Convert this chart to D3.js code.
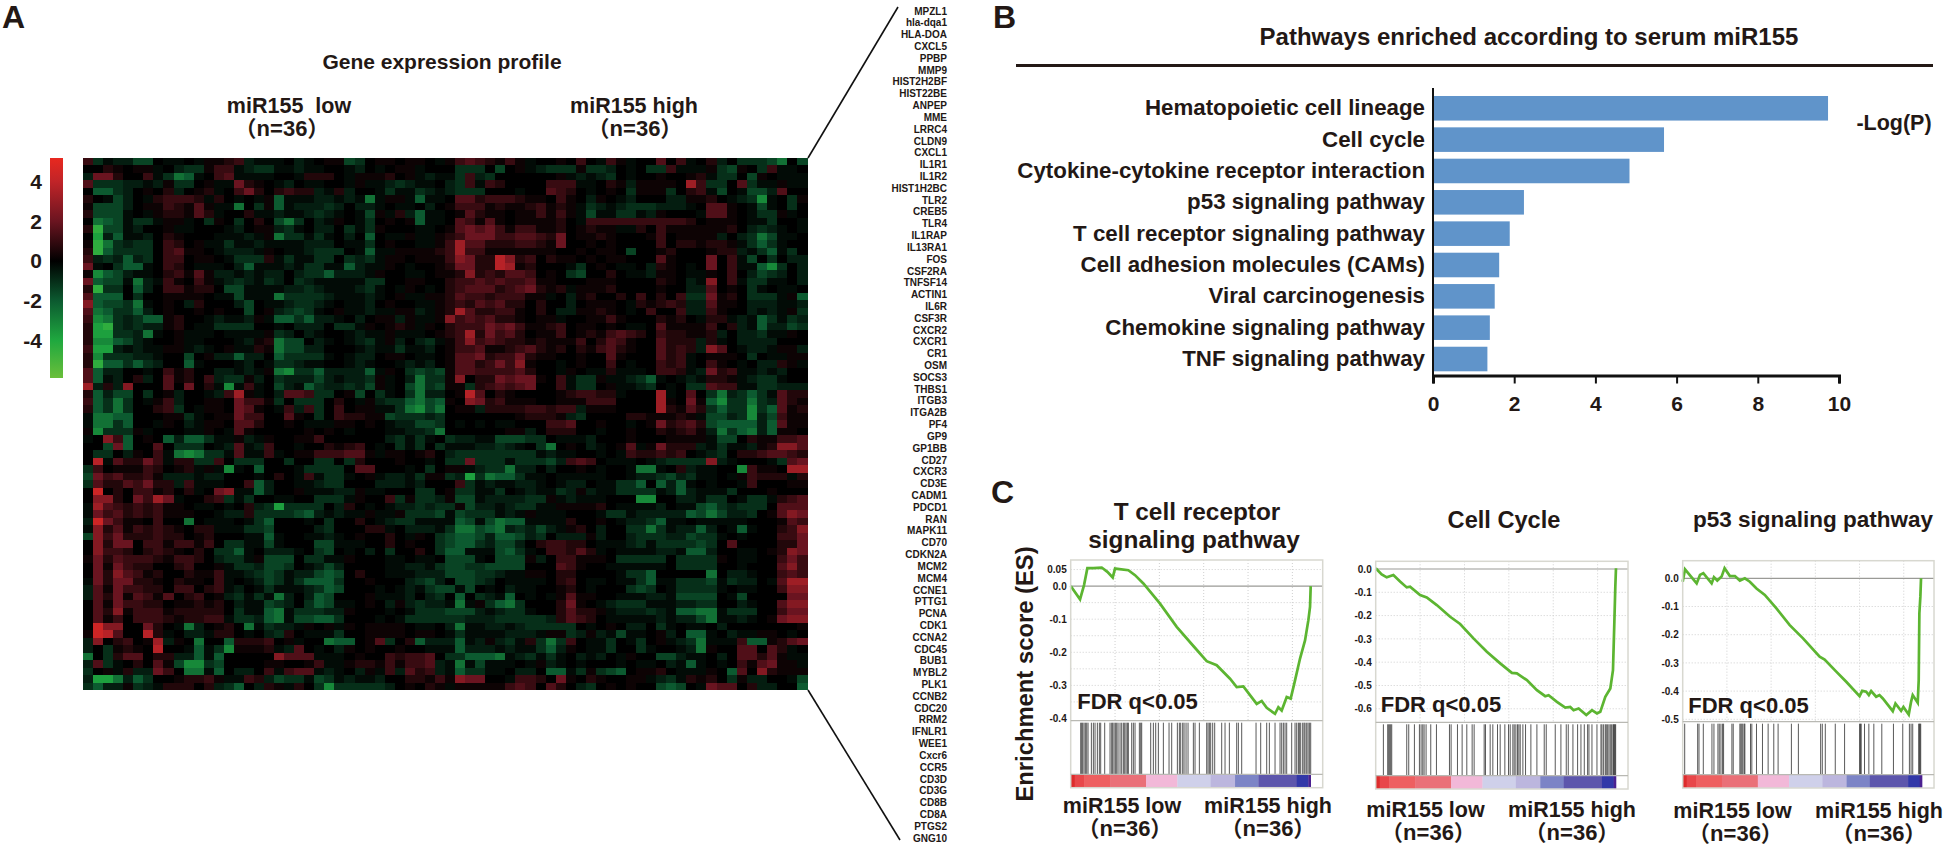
<!DOCTYPE html>
<html>
<head>
<meta charset="utf-8">
<style>
html, body { margin: 0; padding: 0; background: #fff; }
text { font-family: "Liberation Sans", "Noto Sans CJK SC", sans-serif; font-weight: bold; fill: #231815; white-space: pre; }
</style>
<script src="https://cdn.jsdelivr.net/npm/d3@7"></script>
</head>
<body>
<svg id="fig" width="1946" height="846"></svg>
<script>
/*global d3 */

var genes = ["MPZL1", "hla-dqa1", "HLA-DOA", "CXCL5", "PPBP", "MMP9", "HIST2H2BF", "HIST22BE", "ANPEP", "MME", "LRRC4", "CLDN9", "CXCL1", "IL1R1", "IL1R2", "HIST1H2BC", "TLR2", "CREB5", "TLR4", "IL1RAP", "IL13RA1", "FOS", "CSF2RA", "TNFSF14", "ACTIN1", "IL6R", "CSF3R", "CXCR2", "CXCR1", "CR1", "OSM", "SOCS3", "THBS1", "ITGB3", "ITGA2B", "PF4", "GP9", "GP1BB", "CD27", "CXCR3", "CD3E", "CADM1", "PDCD1", "RAN", "MAPK11", "CD70", "CDKN2A", "MCM2", "MCM4", "CCNE1", "PTTG1", "PCNA", "CDK1", "CCNA2", "CDC45", "BUB1", "MYBL2", "PLK1", "CCNB2", "CDC20", "RRM2", "IFNLR1", "WEE1", "Cxcr6", "CCR5", "CD3D", "CD3G", "CD8B", "CD8A", "PTGS2", "GNG10"];

// one string per gene, one char per sample: digits are red levels, letters green levels, "." = 0
var heatLevels = [0.25, 0.65, 1.05, 1.5, 2.0, 2.6, 3.2, 3.8, 4.4, 5];
var heatRows = [
"3cabbd d.aa.a 1123ba aa.ba. 11dc.1 1.11.a 134321 31a..1 .3.a31 a..4.3 a.2b.c ccdf.d",
"..21.1 1a.bcc 133abc caabaa ..ab.a .11a.. .ccc.d .1abcc c1ccb. a.cc3a aa1cd1 .c3aa.",
"b552.. 3acfea .34aaa a..a22 2.a111 2.1aba ac3bc. .....1 ababc. a..1.. 12acc. d1.aaa",
"4cccbb ab1cc. 1aa521 .ab.aa ..a1aa bcbaa. bc3a32 ....33 3aa.21 b1111. 73cc.4 caa1aa",
".eecb. 1.2b.1 2a.352 .2322b a2b..a caacba bccc.. .a..43 2.a.1. c111c. 23ad.a ddb4..",
"2.adb. a23332 a2.a.a 1eaaab babafa 11aeaa .44233 3211.3 1.b1.a b...bb 112.ab cga.c1",
"1dddb. 113214 1aaf.c 1eabbb cb.bba .aa.b. 133312 112312 1acbab cccbbb a.441. ada.c.",
"2ddda. a12214 2a..2a abaabc ba.ad1 a2beaa .14211 .11313 1adaac cab1.. .a441. acc1a.",
".fedac ca11a. c1.c.2 .dfc.b a1.ac. 1.1eaa .43141 .11112 .a3333 333333 2.111. aac..a",
"2iddab ..1aa. ..ab.1 1bca.b b.cac1 ...aa. 145453 133112 .1211a a2.311 11112. bcba.a",
".hbeaa b.21.. .aaaba 1fccac a.b.e. aa1aa1 235553 344325 .1121. ..13.1 111b.b cfdaa.",
"1ifcbc c.32.1 aacaab aaaabb b.aac. 1..aa1 374422 233215 ..1.1. ...3.2 21221a ceca..",
"2ieccc c.3411 .abbba 1.aabc cc.aea a11112 373311 11111. .1.11. d..12. ..122b aceac.",
"3bcbeb c.33.1 1.accc 2acaac c.cbca 11.111 365228 623.21 1.1.11 ...41. ..5.3a d.c.bb",
"5a.cee a.32.a aa.bea aabacc aaebaa 1.a..1 255228 712... ac.1.a a.b21. a.5.3a aegc.b",
"1gedba a.2314 1bbaba bb.bcc ebbba1 ..aa.1 126232 443.1. cd..2. aab11. aa1.3. bdcb.b",
"5eddaf ba31.3 1abcba cb.cba aaaacc ..11.. 233434 33411. ..111. ...21. ba6.3a ccaa.b",
"2icc.e b.3312 2.ddaa aabbcb aaabca .a1.a. 234442 345212 a1112. ...1.. bb4.1. ca.aa.",
"4eee.c ..1111 .aadaa afcccc baaaba .1aa11 243323 3311a. b12..2 .3.2.3 cc512. ccca1e",
"6eddcf a.1.b2 ...bd. aabccb a.aab. 1..aa1 232434 22.2.. b.111. a21232 bb411. bbbaab",
"4fecce b.1..1 .1..d. 1bcdca .1aaba a11ba1 274223 31.2.b b1121. a.3..3 bb31.. baba1c",
"3gfcbc ee12.. abaab1 aeeceb ba.b.1 1b1aa1 634342 21.11a ..1131 ...212 .a22ab aecacb",
"2hicbc bb12.a acccc. .a.bbb .cca1. 121a1. 233354 531123 .11.1. aa.411 113.2b aebbdc",
"2hhccb fa.1aa a.aaaa 1cb.ba ..abaa 1aaa.1 237253 42.113 .12134 32.322 112b.b bcaa1.",
"2ggedb a..1aa ...ab1 2fdd.b a.abca 1b.bca 136343 221211 13.243 1..422 2b2a.b bbb...",
"3hhbab aa11ab a.1aa2 1fddbb ...aba acaab. 133411 234212 .21342 1..423 2b64.a bba11b",
"2gcccb ba..d. 1bbebb .ecccc a.abb. 11.aa. 144523 35211. .1..41 ...423 a.111. c.aa11",
"2ieece cb..ea ...ab. accbaa ..aba. .abab. 144235 361..a .1..3. a..323 a.31.a .bb21a",
"4ebb.. a.312. .bbaba 1fgcce bbbbea 1.cdcd 144333 342..a 1.aa2a aa.332 ab523a abab..",
"4eab.2 b.412. 3bcc1b .cbbbd babbc1 a.bfcc 16.225 4551.3 acc1aa bcea.a ba221a bcca..",
"7b2b6. ..4.5. 2aga3a .dbaec bbcbd1 a.dfcd 11c234 345..3 acc.1a abc.a. cc433a accbbb",
"2ebdd. c.1b.. ab371a .b443c c.1d.c a.cfbb .184.2 1....1 23322a ...7a. 4.cfbc eca422",
"3ecfc. a13b.. 11.533 1c.ccc .2.a1b ccefde 1.6523 111..1 11333. ...71. 51egcc fcb421",
"2ecfc. .23c.a 11.541 .a3b3c .3.11a acfgdf .11b22 223323 3b111. ...721 42cecc gce412",
"affee. ..11ca .11533 ..41.c .32211 dcccbc ...... .12221 bc.... 221112 1addbc gbd311",
"affce. .a1.ba 11.442 ..1.aa a11.1. abbddc .a.a.a a...33 4..1.. a.1523 42deee ebe411",
"1gccc1 a...aa 1.a41. ....1. 1.a... aabbcf ...... 11b.22 2..a.. 1..212 31bfce fbe11.",
"a.63e. 1.ebee caa1ba 1..113 ...... bcaca. cbbaad ddcc.a aab... 1...11 11add. 211334",
"..d5e. .4.ccc .ab4ab 3..a.. 2123.a .cac.c aaabbc ba.cf. 1.ba.1 4a1522 2bacaa b12664",
".cc.b1 .3afgf cca4aa 3a.113 33441a 11.12. bccccc cccaba a..a.a 322323 .abc.2 234432",
".8a422 53a22c c3.ccc ..c..c c.c2.. .1..a. cc5ccc acccdb 343.aa a.abcc cc6ba. ..ac45",
"c3.111 32.12a 1aga.e ...acc cc.44. ..a.c. 11abcc fbb.b. .1.a.. affa.2 baa..g 311.77",
"d53422 31bbba bb...a .2.a3a cca.1a bbac11 cbhcfe ecaa.a aaaa.. abbcdb caa.a1 3222a2",
"c42243 522b3a aa..3e b..aab cc...b bbab.. .3caba abba.a bb.aac ce.ebe a.a..a 3...11",
".9.2.3 312.2a .56aae b..1aa abb1aa ...cc. 1ccaac .abaac b1baac cccabe baaac. ..1...",
".662.5 375a.. 23cac. .aa..c cca1.. 3c1ccb 1ddabb bbcc1a baaa.. .gg..b bacc.a cca234",
"a74323 2311.a a.a.2b chcccc .b2.a. abbcbc c1dbba bccaa1 1112.a aaab.a adecbc cc.444",
"a53423 23111. .abb2c cccdeb abaa1a a1cccd adccca ba1aaa ...acc abbbbb edfdbb c.1465",
"b95311 .3..f. aaa.ac e...a. c..2.a bccaaa aedadf eeaaaa 2..1.a bbceaa .aaaaa ...143",
"a62413 2321.2 2aaacc d....b c...22 a.bbba cffdef bcbdba 12.b.. ccfcab beb.ae a..236",
"d63522 2322.1 2...aa ea..aa ba.1.. 2.a1.c deedbe edbc.b bb1b.. bcccbb dcca.a ...335",
".6255. 331331 3.ccaa da...d daaa.. 2.1..c deecbd db.233 22.aaa bcaccc cdc.4. ...225",
".6332. 2321.2 .ccea. bbba.c d.a.b. c..2.c eeaaad eca.33 242a.a aaabba eeb..a a.1265",
"152433 321332 .bcca1 ddd.cc aa1... aa.aa. ddda.d dd1b.3 3111.c cccc.c ccc1.a a..353",
".51532 2..23. .1accb ddc.ab db.... aabbac ddccdd dd...4 31..aa aaaa.c ccc..a ...463",
".52643 12..21 13aabc dcabbd ed.2.. aaabbb dddccb aa11.2 2....a cce... ..f.bb a..343",
"a52552 21.211 .3a.ab dcacee ec..1. ..bcdb .ddcb. aaaa.2 3.aa.a aceaac ccdacb b.a477",
"b41533 22.33. 23ab.a caaabc ed...a .abacd dad.a. baa..1 2.a... cdc.ac ccca.a a..366",
"b42514 314.23 .1bcac afb.be d...1a aab.bc .e.cba e.a.a1 411..a aabbad ddd.ad ....55",
".41533 22.112 12.baa dcb.ce daa.1. b1bcbb afa1ce fc...2 51.abc ccaaab bcc..b a..466",
".42613 331222 22.caa efaccc bb1... a.accc dddbab cca..2 4221ab bbcbae effacc c..355",
".413.3 332122 33accb efadde ec...a .acccc ccbbbc ccccb2 432.aa aaabab bdfaab a.1566",
".966.. 52.afb .12.fa cbba1. 1a1.11 11.aa. bfaabb abcccc c.a.1. bb.ca. aa.b.. .....1",
"1984.. 82a.bb a22.a. bc2.aa ac..11 11.11. acaaaa bbba11 cb1bad aa.1b. eea.ba a11.a.",
"b6.23. 17b1.f ..e222 3.1a.. fee.14 c.2ebb beab1b ca2cfc 3.aac. ac.1ab cfaaa3 ee1245",
"b.c121 .8..ae acg111 2ab4.a .b1.1. .1..aa aebbba baaceb 1.aac. .ca..a bf1..4 4.42a.",
"f.c244 .22bbe ae.... .6444a aa.1.. 32334. cceeef abcaca .bab.a 1..ddb aa.b.4 4241aa",
"b4ca.2 .41dgg cd.... 11..13 aa1221 31334b afadaa a.a1ba .a...a .aa.ba ea.a.3 14511a",
"c.1a2b b53.ff ae.bb. 3a344a ba.b1a 3b423b aeccaa .bb.ee ac1cde .112.a aa1.e4 .62111",
"bhhfbe c..122 31aa32 bdccad cabaab ..2213 1655.. a332.5 1.21.. 11abca 212.c1 bb..ad",
"cebb1c ba222. 2bce.b 21a2.c gccccc b.1.21 a11111 343.42 .bc.1. 1..ded .a544. 2bb..e"
];

var colorStops = [-5.9, -4, -2, 0, 2, 4, 5.2];
var colorRange = ["#6abf3a", "#1fa83f", "#0c5a30", "#000000", "#6a1420", "#c02428", "#e8281f"];
var colorTicks = [4, 2, 0, -2, -4];

var pathways = ["Hematopoietic cell lineage", "Cell cycle", "Cytokine-cytokine receptor interaction", "p53 signaling pathway", "T cell receptor signaling pathway", "Cell adhesion molecules (CAMs)", "Viral carcinogenesis", "Chemokine signaling pathway", "TNF signaling pathway"];
var logP = [9.73, 5.69, 4.84, 2.24, 1.89, 1.63, 1.52, 1.40, 1.34];

// running enrichment score, [rank, ES]
var tcrCurve = [[0, 0], [28, -0.04], [40, 0.003], [50, 0.054], [68, 0.054], [93, 0.056], [110, 0.043], [126, 0.026], [133, 0.053], [173, 0.048], [193, 0.033], [218, 0.008], [268, -0.053], [318, -0.123], [368, -0.181], [408, -0.227], [438, -0.239], [478, -0.28], [498, -0.305], [518, -0.303], [558, -0.356], [573, -0.347], [588, -0.368], [613, -0.386], [623, -0.366], [633, -0.376], [648, -0.335], [660, -0.34], [673, -0.285], [688, -0.219], [703, -0.164], [713, -0.103], [718, -0.063], [720, 0]];
var tcrHits = [30, 33, 36, 40, 44, 48, 52, 62, 68, 73, 80, 86, 90, 102, 118, 123, 126, 130, 134, 138, 142, 148, 153, 158, 162, 166, 170, 173, 183, 188, 193, 206, 210, 213, 240, 248, 255, 263, 278, 295, 303, 320, 326, 330, 336, 340, 346, 352, 368, 373, 386, 408, 412, 416, 420, 426, 432, 453, 463, 476, 498, 503, 513, 556, 570, 588, 596, 613, 628, 633, 638, 643, 648, 663, 673, 678, 683, 686, 690, 696, 700, 703, 708, 712, 716, 720];
var cycleCurve = [[0, 0.003], [18, -0.023], [33, -0.036], [53, -0.026], [73, -0.054], [93, -0.079], [103, -0.076], [133, -0.112], [153, -0.122], [183, -0.155], [223, -0.205], [253, -0.236], [293, -0.298], [333, -0.355], [373, -0.405], [408, -0.446], [423, -0.448], [453, -0.477], [483, -0.52], [508, -0.546], [518, -0.542], [543, -0.57], [568, -0.595], [583, -0.592], [593, -0.606], [608, -0.599], [631, -0.627], [648, -0.606], [663, -0.62], [673, -0.613], [688, -0.549], [703, -0.513], [711, -0.434], [715, -0.234], [718, -0.076], [720, 0.003]];
var cycleHits = [23, 36, 39, 42, 45, 48, 93, 99, 116, 131, 136, 141, 145, 151, 165, 182, 221, 226, 245, 259, 273, 289, 295, 325, 329, 343, 351, 365, 373, 387, 398, 403, 411, 415, 420, 425, 429, 433, 441, 449, 465, 483, 505, 511, 538, 555, 571, 577, 591, 605, 615, 625, 635, 639, 648, 663, 675, 678, 683, 688, 691, 695, 699, 703, 707, 711, 713, 715, 717, 719];
var p53Curve = [[0, -0.012], [7, 0.032], [42, -0.018], [52, 0.012], [62, 0.018], [87, -0.018], [94, 0.004], [104, -0.008], [117, 0.006], [126, 0.036], [142, 0.008], [157, 0.008], [172, -0.008], [187, 0], [202, -0.012], [222, -0.036], [247, -0.059], [282, -0.107], [322, -0.166], [362, -0.213], [412, -0.278], [427, -0.288], [462, -0.331], [492, -0.367], [532, -0.418], [540, -0.399], [552, -0.402], [560, -0.414], [567, -0.4], [582, -0.42], [592, -0.414], [602, -0.426], [632, -0.471], [640, -0.444], [657, -0.47], [664, -0.456], [680, -0.483], [687, -0.438], [692, -0.414], [707, -0.441], [710, -0.361], [712, -0.124], [715, -0.065], [717, 0]];
var p53Hits = [6, 45, 49, 62, 88, 94, 106, 110, 115, 120, 123, 148, 152, 172, 175, 178, 181, 185, 187, 204, 208, 222, 240, 257, 274, 287, 327, 348, 415, 420, 429, 459, 487, 532, 535, 537, 547, 560, 575, 599, 634, 662, 682, 687, 692, 710, 712, 714, 716];

var rankEdges = [0, 12, 40, 118, 226, 320, 420, 493, 563, 678, 713, 720];
var rankColors = ["#dd2c2c", "#e8474a", "#ee5f60", "#ea7078", "#f2b8d8", "#cfd0ea", "#bcb6de", "#7c84c6", "#5d56ac", "#3238a8", "#4a2090"];
var rankGrid = [133, 266, 399, 532, 665];

var svg = d3.select("#fig");

function addText(x, y, str, size, anchor) {
    return svg.append("text")
        .attr("x", x)
        .attr("y", y)
        .attr("font-size", size)
        .attr("text-anchor", anchor || "middle")
        .text(str);
}

function dessinHeatmap() {
    "use strict";
    var values = heatRows.map(function (r) {
            return r.replace(/ /g, "").split("").map(function (c) {
                if (c === ".") { return 0; }
                if (c >= "1" && c <= "9") { return heatLevels[+c - 1]; }
                return -heatLevels[c.charCodeAt(0) - 97];
            });
        }),
        x = d3.scaleBand().domain(d3.range(72)).range([83, 807]),
        y = d3.scaleBand().domain(genes).range([158, 690]),
        couleur = d3.scaleLinear().domain(colorStops).range(colorRange),
        barY = d3.scaleLinear().domain([5.2, -5.9]).range([158, 378]),
        labelY = d3.scalePoint().domain(genes).range([11, 838]),
        grad;

    svg.append("g")
        .attr("shape-rendering", "crispEdges")
        .selectAll("g")
        .data(values)
        .enter()
        .append("g")
        .attr("transform", function (d, i) { return "translate(0," + y(genes[i]) + ")"; })
        .selectAll("rect")
        .data(function (d) { return d; })
        .enter()
        .append("rect")
        .attr("x", function (d, i) { return x(i); })
        .attr("width", x.bandwidth() + 0.5)
        .attr("height", y.bandwidth() + 0.5)
        .attr("fill", function (d) { return couleur(d); });

    // colour bar
    grad = svg.append("defs").append("linearGradient")
        .attr("id", "barre")
        .attr("x1", 0).attr("x2", 0).attr("y1", 0).attr("y2", 1);
    grad.selectAll("stop")
        .data(colorStops.slice().reverse())
        .enter()
        .append("stop")
        .attr("offset", function (d) { return (barY(d) - 158) / 220; })
        .attr("stop-color", function (d) { return couleur(d); });
    svg.append("rect")
        .attr("x", 50).attr("y", 158)
        .attr("width", 13).attr("height", 220)
        .attr("fill", "url(#barre)");
    svg.append("g")
        .attr("transform", "translate(44,0)")
        .call(d3.axisLeft(barY).tickValues(colorTicks).tickSize(0).tickPadding(2).tickFormat(String))
        .call(function (g) { g.select(".domain").remove(); })
        .selectAll("text")
        .attr("font-size", 21)
        .attr("font-family", null);

    // gene names and the two lines that lead to them
    svg.append("g")
        .selectAll("text")
        .data(genes)
        .enter()
        .append("text")
        .attr("x", 947)
        .attr("y", function (d) { return labelY(d); })
        .attr("dy", "0.36em")
        .attr("font-size", 10)
        .attr("text-anchor", "end")
        .text(function (d) { return d; });
    svg.append("g")
        .attr("stroke", "#111")
        .attr("stroke-width", 1.6)
        .selectAll("line")
        .data([[158, 7, 898], [690, 840, 900]])
        .enter()
        .append("line")
        .attr("x1", 808)
        .attr("y1", function (d) { return d[0]; })
        .attr("x2", function (d) { return d[2]; })
        .attr("y2", function (d) { return d[1]; });

    addText(442, 69, "Gene expression profile", 21);
    addText(289, 113, "miR155  low", 21.5);
    addText(282, 136, "（n=36）", 22);
    addText(634, 113, "miR155 high", 21.5);
    addText(635, 136, "（n=36）", 22);
}

function dessinBarres() {
    "use strict";
    var x = d3.scaleLinear().domain([0, 10]).range([1433, 1839]),
        y = d3.scaleBand().domain(pathways).range([96, 371.3]).paddingInner(0.216),
        axeY;

    addText(1529, 45, "Pathways enriched according to serum miR155", 24);
    svg.append("line")
        .attr("x1", 1016).attr("x2", 1933)
        .attr("y1", 65.5).attr("y2", 65.5)
        .attr("stroke", "#231815")
        .attr("stroke-width", 3);

    svg.append("g")
        .selectAll("rect")
        .data(pathways)
        .enter()
        .append("rect")
        .attr("x", x(0))
        .attr("y", function (d) { return y(d); })
        .attr("width", function (d, i) { return x(logP[i]) - x(0); })
        .attr("height", y.bandwidth())
        .attr("fill", "#6094ca");

    axeY = svg.append("g")
        .attr("transform", "translate(" + x(0) + ",0)")
        .call(d3.axisLeft(y).tickSize(0).tickPadding(8));
    axeY.select(".domain")
        .attr("d", "M0,88V375")
        .attr("stroke", "#111")
        .attr("stroke-width", 2);
    axeY.selectAll("text")
        .attr("font-size", 22.3)
        .attr("font-family", null);

    svg.append("g")
        .attr("transform", "translate(0,375.5)")
        .call(d3.axisBottom(x).tickValues([0, 2, 4, 6, 8, 10]).tickSize(8).tickSizeOuter(8).tickPadding(13))
        .call(function (g) {
            g.select(".domain").attr("stroke", "#111").attr("stroke-width", 3);
            g.selectAll("line").attr("stroke", "#111").attr("stroke-width", 2);
            g.selectAll("text").attr("font-size", 21).attr("font-family", null);
        });

    addText(1894, 130, "-Log(P)", 21.5);
}

function dessinGsea(cfg) {
    "use strict";
    var x = d3.scaleLinear().domain([0, 756]).range([cfg.left, cfg.right]),
        y = d3.scaleLinear().domain(cfg.domain).range([cfg.top, cfg.sep]),
        g = svg.append("g"),
        line = d3.line()
            .x(function (d) { return x(d[0]); })
            .y(function (d) { return y(d[1]); }),
        gris = "#b9b9b3";

    // dotted grid
    g.append("g")
        .selectAll("line")
        .data(cfg.gridY)
        .enter()
        .append("line")
        .attr("x1", cfg.left).attr("x2", cfg.right)
        .attr("y1", function (d) { return y(d); })
        .attr("y2", function (d) { return y(d); })
        .attr("stroke", "#cfcfcf")
        .attr("stroke-dasharray", "1 2");
    g.append("g")
        .selectAll("line")
        .data(rankGrid)
        .enter()
        .append("line")
        .attr("x1", function (d) { return x(d); })
        .attr("x2", function (d) { return x(d); })
        .attr("y1", cfg.top).attr("y2", cfg.sep)
        .attr("stroke", "#cfcfcf")
        .attr("stroke-dasharray", "1 2");

    g.append("line")
        .attr("x1", cfg.left).attr("x2", cfg.right)
        .attr("y1", y(0)).attr("y2", y(0))
        .attr("stroke", "#9a9a96")
        .attr("stroke-width", 1.2);

    // hits
    g.append("g")
        .selectAll("line")
        .data(cfg.hits)
        .enter()
        .append("line")
        .attr("x1", function (d) { return x(d); })
        .attr("x2", function (d) { return x(d); })
        .attr("y1", cfg.sep + 2).attr("y2", cfg.band)
        .attr("stroke", "#222")
        .attr("stroke-opacity", 0.75)
        .attr("stroke-width", 1);

    // ranking band
    g.append("g")
        .selectAll("rect")
        .data(rankColors)
        .enter()
        .append("rect")
        .attr("x", function (d, i) { return x(rankEdges[i]); })
        .attr("width", function (d, i) { return x(rankEdges[i + 1]) - x(rankEdges[i]) + 0.3; })
        .attr("y", cfg.band)
        .attr("height", cfg.bottom - cfg.band)
        .attr("fill", function (d) { return d; });

    g.append("path")
        .datum(cfg.curve)
        .attr("fill", "none")
        .attr("stroke", "#5cb531")
        .attr("stroke-width", 2.7)
        .attr("d", line);

    g.append("rect")
        .attr("x", cfg.left).attr("y", cfg.top)
        .attr("width", cfg.right - cfg.left)
        .attr("height", cfg.bottom - cfg.top)
        .attr("fill", "none")
        .attr("stroke", "#d8d8d0")
        .attr("stroke-width", 1.5);
    g.selectAll(".sep")
        .data([cfg.sep, cfg.band])
        .enter()
        .append("line")
        .attr("x1", cfg.left).attr("x2", cfg.right)
        .attr("y1", function (d) { return d; })
        .attr("y2", function (d) { return d; })
        .attr("stroke", gris)
        .attr("stroke-width", 1.2);

    g.append("g")
        .attr("transform", "translate(" + (cfg.left - 1) + ",0)")
        .call(d3.axisLeft(y).tickValues(cfg.ticks).tickSize(0).tickPadding(3).tickFormat(function (d) {
            return d === 0.05 ? "0.05" : d.toFixed(1);
        }))
        .call(function (a) {
            a.select(".domain").remove();
            a.selectAll("text").attr("font-size", 10).attr("font-family", null);
        });

    cfg.title.forEach(function (t) { addText(t[0], t[1], t[2], cfg.titleSize); });
    addText(cfg.fdr[0], cfg.fdr[1], "FDR q<0.05", 22, "start");
    addText(cfg.low, cfg.labelY, "miR155 low", 21.5);
    addText(cfg.high, cfg.labelY, "miR155 high", 21.5);
    addText(cfg.low + 3, cfg.labelY + 23, "（n=36）", 22);
    addText(cfg.high, cfg.labelY + 23, "（n=36）", 22);
}

dessinHeatmap();
dessinBarres();

dessinGsea({
    left: 1070.7, right: 1322.7, top: 560, sep: 720.7, band: 774.3, bottom: 787.7,
    domain: [0.0788, -0.4067],
    curve: tcrCurve, hits: tcrHits,
    ticks: [0.05, 0, -0.1, -0.2, -0.3, -0.4],
    gridY: [0.05, -0.05, -0.1, -0.15, -0.2, -0.25, -0.3, -0.35],
    title: [[1197, 520, "T cell receptor"], [1194, 548, "signaling pathway"]], titleSize: 24.4,
    fdr: [1077.3, 709],
    low: 1122, high: 1268, labelY: 813
});
dessinGsea({
    left: 1375.7, right: 1628, top: 561.3, sep: 722.3, band: 775.7, bottom: 789,
    domain: [0.033, -0.658],
    curve: cycleCurve, hits: cycleHits,
    ticks: [0, -0.1, -0.2, -0.3, -0.4, -0.5, -0.6],
    gridY: [-0.1, -0.2, -0.3, -0.4, -0.5, -0.6],
    title: [[1504, 528, "Cell Cycle"]], titleSize: 23.6,
    fdr: [1380.7, 711.7],
    low: 1425.5, high: 1572, labelY: 816.7
});
dessinGsea({
    left: 1682.7, right: 1934, top: 560.7, sep: 721.7, band: 774.7, bottom: 788,
    domain: [0.0624, -0.5085],
    curve: p53Curve, hits: p53Hits,
    ticks: [0, -0.1, -0.2, -0.3, -0.4, -0.5],
    gridY: [-0.1, -0.2, -0.3, -0.4, -0.5],
    title: [[1813, 526.7, "p53 signaling pathway"]], titleSize: 22.5,
    fdr: [1688.3, 713.3],
    low: 1732.5, high: 1879, labelY: 818
});

// panel letters
addText(2, 28, "A", 32, "start");
addText(993, 28, "B", 32, "start");
addText(991, 503, "C", 32, "start");

svg.append("text")
    .attr("transform", "translate(1033,674) rotate(-90)")
    .attr("font-size", 23.8)
    .attr("text-anchor", "middle")
    .text("Enrichment score (ES)");
</script>
</body>
</html>
